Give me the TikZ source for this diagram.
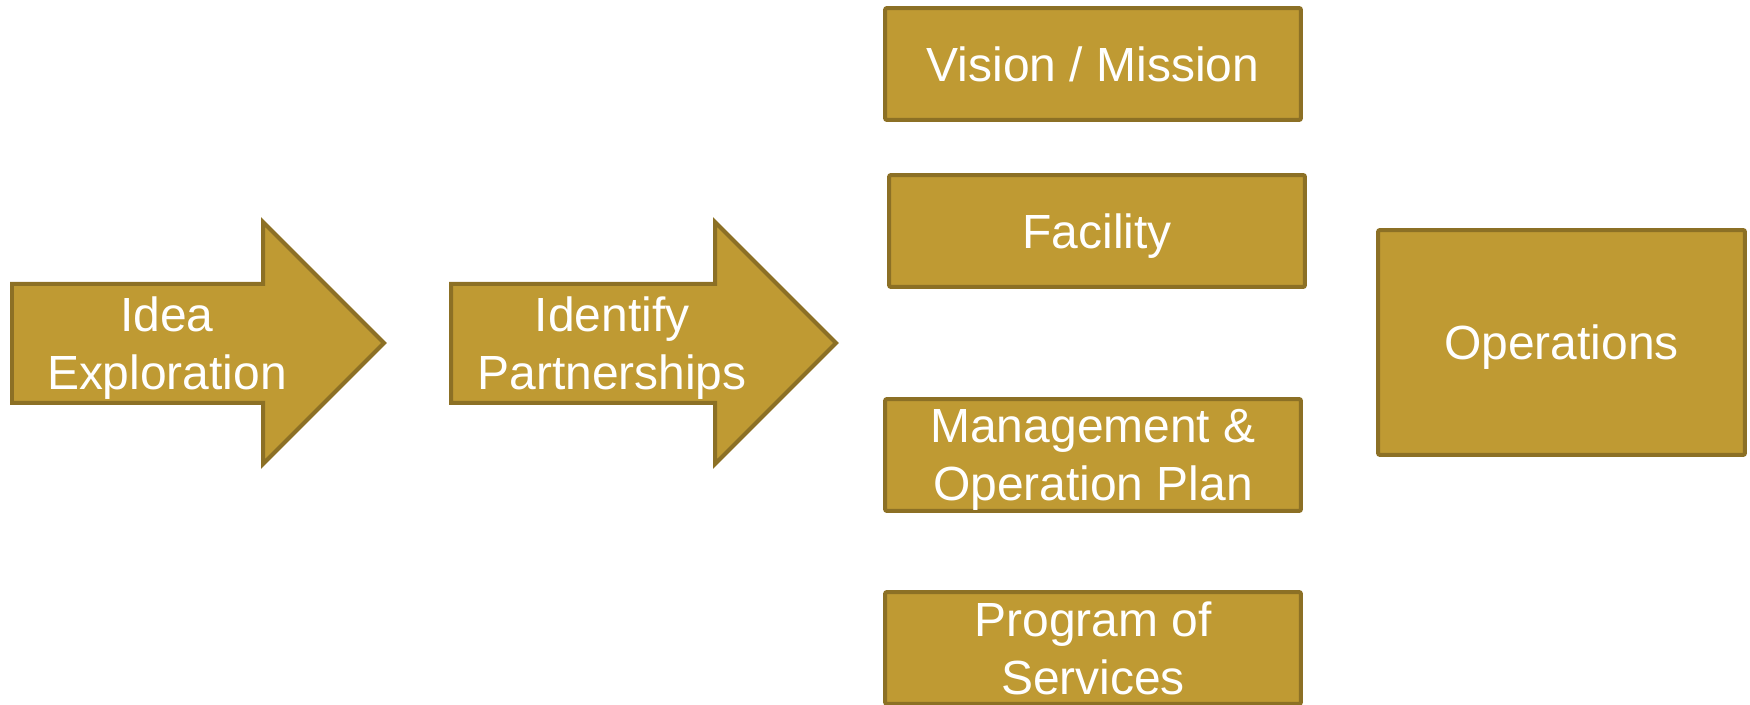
\documentclass[tikz,border=0pt]{standalone}
\usepackage{fontspec}
\setmainfont{Liberation Sans}
\definecolor{gold}{HTML}{BF9A33}
\definecolor{goldline}{HTML}{8C7025}

\begin{document}
\begin{tikzpicture}[x=0.02cm, y=-0.02cm,
  every node/.style={text=white, font=\fontsize{27.3}{32.8}\selectfont, align=center, inner sep=0pt, outer sep=0pt, text depth=0pt},
  arrowshape/.style={fill=gold, draw=goldline, line width=0.08cm},
  box/.style={rectangle, fill=gold, draw=goldline, line width=0.08cm, rounded corners=0.04cm, minimum width=8.32cm, minimum height=2.24cm}]
\useasboundingbox (0,0) rectangle (1750,705);

% the two steps
\draw[arrowshape] (12,284) -- (263,284) -- (263,222) -- (384,343) -- (263,464) -- (263,403) -- (12,403) -- cycle;
\node (idea) at (167,343) {Idea\\Exploration};
\draw[arrowshape] (451,284) -- (715,284) -- (715,222) -- (836,343) -- (715,464) -- (715,403) -- (451,403) -- cycle;
\node (partner) at (612,343) {Identify\\Partnerships};

% the four parts
\node[box] (vision) at (1093,64) {Vision / Mission};
\node[box] (facility) at (1097,231) {Facility};
\node[box] (mgmt) at (1093,455) {Management \&\\Operation Plan};
\node[box] (program) at (1093,648) {Program of\\Services};

% result
\node[box, minimum width=7.34cm, minimum height=4.5cm] (ops) at (1561.5,342.5) {Operations};
\end{tikzpicture}
\end{document}
